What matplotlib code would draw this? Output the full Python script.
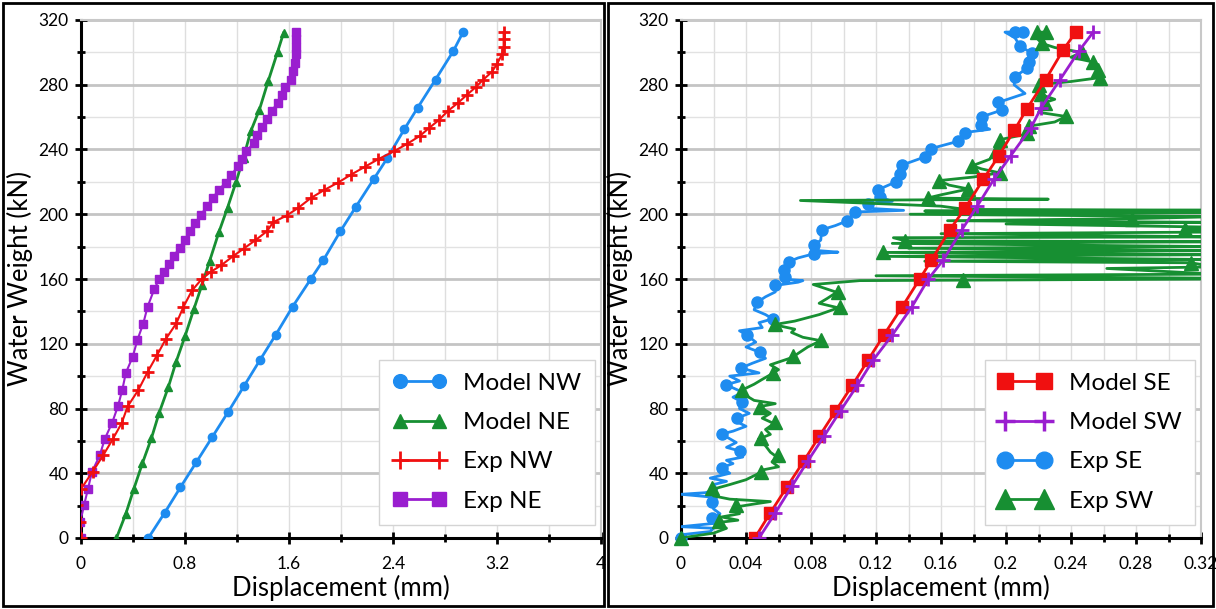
import matplotlib
matplotlib.use("Agg")
import matplotlib.pyplot as plt
from matplotlib.lines import Line2D
from matplotlib.patches import Rectangle
from matplotlib.ticker import MultipleLocator

plt.rcParams['font.family'] = ['Lato', 'DejaVu Sans']

# ---------------- left panel data (north side) ----------------
model_nw_w = [0, 15.6, 31.2, 46.8, 62.4, 78, 94, 109.7, 125.5, 142.8, 160, 171.6, 189.6, 204.3, 221.5, 234.5,
              252.5, 265.7, 283.2, 300.8, 312.5]
model_nw_x = [0.518, 0.644, 0.764, 0.887, 1.01, 1.133, 1.255, 1.375, 1.498, 1.627, 1.768, 1.864, 1.996, 2.112,
              2.25, 2.355, 2.487, 2.589, 2.727, 2.864, 2.939]

model_ne_w = [0, 15, 30.5, 46.3, 61.7, 77.5, 93, 108.7, 124.6, 141.6, 156, 171, 189, 204, 220, 235, 251.3,
              264.5, 282.5, 300.5, 312]
model_ne_x = [0.273, 0.345, 0.407, 0.473, 0.542, 0.602, 0.671, 0.731, 0.8, 0.869, 0.929, 0.989, 1.061, 1.127,
              1.193, 1.25, 1.306, 1.372, 1.441, 1.513, 1.558]

exp_nw_w = [0, 10, 20.4, 30.3, 41, 51, 61, 71, 81.3, 91.4, 102.5, 112.8, 123, 132.7, 142.8, 152.9, 160, 164.4,
            168.5, 174, 178.8, 184, 189.6, 195, 199.2, 204, 210, 214.8, 219.6, 224.4, 229.2, 234, 238.8, 243.6,
            248.4, 253.2, 258, 264, 268.8, 273.6, 278.4, 283.2, 288, 292.8, 298.8, 303.6, 308.4, 312.5]
exp_nw_x = [0, -0.01, -0.03, 0.0, 0.09, 0.17, 0.244, 0.313, 0.359, 0.441, 0.512, 0.584, 0.653, 0.734, 0.788,
            0.854, 0.929, 0.998, 1.079, 1.168, 1.252, 1.342, 1.432, 1.477, 1.582, 1.672, 1.768, 1.867, 1.978,
            2.076, 2.181, 2.286, 2.406, 2.511, 2.607, 2.676, 2.75, 2.825, 2.9, 2.966, 3.035, 3.095, 3.161, 3.2,
            3.239, 3.251, 3.251, 3.251]

exp_ne_w = [0, 10, 20.4, 30.5, 40.8, 51, 61.2, 71.3, 81.6, 91.7, 102, 112, 122.4, 132.5, 142.8, 153.6, 160,
            164.4, 169.2, 174, 179.3, 184.3, 189.6, 194.4, 199.7, 204.8, 210, 214.8, 219.6, 224.4, 229.7, 234,
            239.3, 244, 248.9, 254, 259, 264, 268.8, 273.6, 278.4, 283.2, 288.5, 293.3, 298.8, 303.6, 308.4, 312.5]
exp_ne_x = [0, -0.006, 0.024, 0.054, 0.084, 0.144, 0.183, 0.24, 0.285, 0.318, 0.345, 0.398, 0.434, 0.479, 0.512,
            0.563, 0.602, 0.638, 0.674, 0.713, 0.758, 0.797, 0.839, 0.878, 0.922, 0.968, 1.013, 1.058, 1.112,
            1.157, 1.207, 1.237, 1.273, 1.333, 1.357, 1.393, 1.432, 1.468, 1.513, 1.543, 1.573, 1.613, 1.633,
            1.648, 1.657, 1.657, 1.657, 1.657]

# ---------------- right panel data (south side) ----------------
model_se_w = [0, 15.6, 31.7, 47.3, 63, 78.7, 94.3, 109.7, 125.3, 142.8, 160, 171.6, 190.3, 204, 221.5, 236,
              252, 265.2, 283.2, 301.2, 312.5]
model_se_x = [0.0454, 0.055, 0.0653, 0.0754, 0.0852, 0.0953, 0.1054, 0.115, 0.1248, 0.1361, 0.1469, 0.1541,
              0.1654, 0.175, 0.186, 0.1955, 0.2052, 0.2129, 0.2244, 0.235, 0.2429]

model_sw_w = [0, 15.6, 31.9, 47.5, 63, 78.7, 94.3, 109.7, 125.5, 142.8, 160, 171.6, 190.3, 205.2, 221.5, 236,
              253.3, 265.5, 283.2, 301, 312.5]
model_sw_x = [0.048, 0.0581, 0.0682, 0.078, 0.0881, 0.0982, 0.1085, 0.1181, 0.1301, 0.1421, 0.1522, 0.1613,
              0.1728, 0.1824, 0.1925, 0.2028, 0.2153, 0.2215, 0.2333, 0.245, 0.2537]

# exp SE trace and the points where it carries a marker
exp_se_w = [0.5, 2, 4, 6, 7, 9, 12.6, 15, 18, 22.5, 25, 27, 28, 30, 33, 35, 37, 40, 43.5, 46, 48, 50, 53.8, 56,
            59, 64.2, 66, 69, 72, 74, 77, 80, 84.2, 87, 90, 94.7, 97, 100, 102, 105, 108, 111, 114.7, 118, 121,
            125.5, 128, 130, 133, 135.4, 138, 141, 145.7, 149, 152, 156, 158, 159, 160, 161.1, 165.7, 170.8,
            173, 175.6, 176.6, 177.5, 180.7, 184, 190.4, 193, 195.8, 201.4, 202.4, 203.5, 206.5, 208, 210.6,
            215.2, 219.9, 225.1, 230.3, 235.4, 240.6, 245.1, 250.5, 252.5, 255, 260.2, 264.3, 269.1, 274.6, 280,
            284.9, 290.1, 294.2, 299.4, 304.1, 309, 312.5, 312.8]
exp_se_x = [0.0, 0.0, 0.018, 0.020, 0.0, 0.020, 0.019, 0.024, 0.020, 0.019, 0.022, 0.0, 0.015, 0.022, 0.020,
            0.028, 0.018, 0.030, 0.025, 0.032, 0.028, 0.038, 0.036, 0.028, 0.034, 0.025, 0.032, 0.040, 0.034,
            0.0343, 0.042, 0.036, 0.0373, 0.032, 0.038, 0.0277, 0.036, 0.030, 0.048, 0.0369, 0.044, 0.052,
            0.0486, 0.040, 0.046, 0.0404, 0.036, 0.050, 0.048, 0.0564, 0.052, 0.045, 0.047, 0.052, 0.058,
            0.0578, 0.072, 0.075, 0.062, 0.064, 0.0634, 0.0667, 0.072, 0.0818, 0.0966, 0.085, 0.0818, 0.086,
            0.0866, 0.095, 0.102, 0.107, 0.137, 0.118, 0.1153, 0.130, 0.1225, 0.1214, 0.132, 0.1348, 0.1358,
            0.150, 0.154, 0.1706, 0.1748, 0.190, 0.1844, 0.185, 0.1973, 0.1953, 0.2117, 0.205, 0.2055, 0.2127,
            0.2143, 0.2158, 0.2086, 0.2055, 0.1994, 0.2107]
exp_se_mark_w = [0, 12.6, 22.5, 43.5, 53.8, 64.2, 74, 84.2, 94.7, 105, 114.7, 125.5, 135.4, 145.7, 156, 161.1,
                 165.7, 170.8, 175.6, 180.7, 190.4, 195.8, 201.4, 206.5, 210.6, 215.2, 219.9, 225.1, 230.3,
                 235.4, 240.6, 245.1, 250.5, 255, 260.2, 264.3, 269.1, 284.9, 290.1, 294.2, 299.4, 304.1, 312.8,
                 312.8]
exp_se_mark_x = [0.0, 0.0189, 0.0189, 0.025, 0.036, 0.025, 0.0343, 0.0373, 0.0277, 0.0369, 0.0486, 0.0404,
                 0.0564, 0.047, 0.0578, 0.064, 0.0634, 0.0667, 0.0818, 0.0818, 0.0866, 0.102, 0.107, 0.1153,
                 0.1225, 0.1214, 0.132, 0.1348, 0.1358, 0.150, 0.154, 0.1706, 0.1748, 0.1844, 0.185, 0.1973,
                 0.1953, 0.2055, 0.2127, 0.2143, 0.2158, 0.2086, 0.2055, 0.2107]

# exp SW trace; the readings past 0.32 run off the right edge of the axes
exp_sw_w = [0, 3, 6, 9.5, 11, 13, 15, 19.2, 21, 22.5, 24, 26, 30.1, 33, 36, 39.8, 42, 44, 47, 50.1, 53, 57,
            61.1, 64, 67, 70.7, 74, 77, 81.1, 83, 85, 88, 91, 95, 98, 101.3, 104, 107, 111.6, 114, 118, 121.9,
            124, 127, 129, 131.8, 134, 138, 142.2, 145, 148, 151.8, 156.6, 159, 160, 160.5, 162, 163, 166.5,
            167.5, 170, 171, 172, 174, 175, 176.4, 177.5, 179, 180, 182, 183, 183.6, 185.5, 186, 188, 189,
            190.8, 192, 194, 195, 196, 197.3, 198.5, 200, 201, 202, 202.5, 203, 205, 208.5, 209.3, 210, 212,
            215.6, 218, 220.8, 223, 225.6, 228, 230, 234, 238.8, 242, 246, 249, 250, 254.4, 257, 260.4, 263,
            269, 271, 274, 280, 282, 284.4, 289, 294, 297, 300, 303, 305.6, 310, 312.5, 312.5]
exp_sw_x = [0.0, 0.020, 0.028, 0.0223, 0.035, 0.025, 0.036, 0.034, 0.045, 0.055, 0.030, 0.020, 0.0195, 0.030,
            0.040, 0.0476, 0.050, 0.060, 0.056, 0.0589, 0.055, 0.052, 0.0476, 0.055, 0.052, 0.0572, 0.050,
            0.055, 0.0482, 0.058, 0.045, 0.040, 0.0367, 0.045, 0.050, 0.0558, 0.060, 0.055, 0.0687, 0.072,
            0.078, 0.086, 0.075, 0.068, 0.070, 0.0572, 0.070, 0.085, 0.0968, 0.085, 0.090, 0.0958, 0.0814,
            0.110, 0.33, 0.33, 0.120, 0.33, 0.262, 0.33, 0.3137, 0.150, 0.33, 0.125, 0.33, 0.1241, 0.33, 0.140,
            0.33, 0.130, 0.33, 0.138, 0.1307, 0.33, 0.160, 0.33, 0.3101, 0.33, 0.200, 0.33, 0.164, 0.2777, 0.33,
            0.141, 0.33, 0.150, 0.33, 0.175, 0.160, 0.0735, 0.226, 0.1517, 0.160, 0.1769, 0.165, 0.1589, 0.180,
            0.196, 0.185, 0.1793, 0.190, 0.1937, 0.200, 0.196, 0.210, 0.2131, 0.2141, 0.230, 0.237, 0.220,
            0.2237, 0.230, 0.2213, 0.220, 0.240, 0.2578, 0.2568, 0.2537, 0.240, 0.2465, 0.230, 0.222, 0.2178,
            0.219, 0.2244]
exp_sw_mark_w = [0, 10.8, 20.4, 30.7, 40.8, 51.1, 61.9, 71.5, 81.1, 91.2, 102, 112.3, 122.4, 132.5, 142.8,
                 152, 159.6, 170, 176.4, 183.6, 190.8, 197.3, 210, 215.6, 220.8, 225.6, 230, 238.8, 246, 250,
                 254.4, 260.4, 269, 274, 280, 284.4, 289, 294, 300, 305.6, 312.5, 312.5]
exp_sw_mark_x = [0.0, 0.0233, 0.0341, 0.0192, 0.049, 0.0598, 0.049, 0.0581, 0.0485, 0.0377, 0.0569, 0.0689,
                 0.0864, 0.058, 0.0977, 0.0965, 0.1733, 0.3137, 0.1241, 0.138, 0.3101, 0.2777, 0.1517, 0.1769,
                 0.1589, 0.196, 0.1793, 0.1937, 0.196, 0.2131, 0.2141, 0.237, 0.2237, 0.2213, 0.22, 0.2578,
                 0.2568, 0.2537, 0.2465, 0.222, 0.219, 0.2244]

BLUE = '#1E8CF0'
GREEN = '#178F32'
RED = '#F01010'
PURPLE = '#9A1ECF'


def style_axes(ax, xmax, xmajor, xminor, xfmt):
    ax.set_xlim(0, xmax)
    ax.set_ylim(0, 320)
    ax.xaxis.set_major_locator(MultipleLocator(xmajor))
    ax.xaxis.set_minor_locator(MultipleLocator(xminor))
    ax.yaxis.set_major_locator(MultipleLocator(40))
    ax.yaxis.set_minor_locator(MultipleLocator(20))
    ax.xaxis.set_major_formatter(xfmt)
    ax.grid(axis='y', which='major', color='#c4c4c4', linewidth=2.0, zorder=0)
    ax.grid(axis='y', which='minor', color='#e2e2e2', linewidth=1.0, zorder=0)
    ax.grid(axis='x', which='both', color='#dedede', linewidth=1.0, zorder=0)
    for side in ['top', 'right']:
        ax.spines[side].set_color('#c8c8c8')
        ax.spines[side].set_linewidth(1.5)
    for side in ['left', 'bottom']:
        ax.spines[side].set_color('black')
        ax.spines[side].set_linewidth(2.2)
    ax.tick_params(which='major', direction='inout', length=8, width=2, labelsize=12.5, pad=5,
                   top=False, right=False)
    ax.tick_params(which='minor', direction='inout', length=6, width=2, top=False, right=False)
    ax.tick_params(axis='x', pad=9)
    ax.set_xlabel('Displacement (mm)', fontsize=18.5, labelpad=2)
    ax.set_ylabel('Water Weight (kN)', fontsize=18.5, labelpad=4)


def fmt_clean(v, pos):
    s = ('%.2f' % v).rstrip('0').rstrip('.')
    return s


fig = plt.figure(figsize=(12.16, 6.09), dpi=100)

# panel frames
fig.patches.append(Rectangle((3 / 1216, 3 / 609), 601 / 1216, 603 / 609, transform=fig.transFigure,
                             fill=False, edgecolor='black', linewidth=2))
fig.patches.append(Rectangle((608 / 1216, 3 / 609), 605 / 1216, 603 / 609, transform=fig.transFigure,
                             fill=False, edgecolor='black', linewidth=2))

ax1 = fig.add_axes([81 / 1216, 71 / 609, 520 / 1216, 518 / 609])
ax2 = fig.add_axes([681 / 1216, 71 / 609, 520 / 1216, 518 / 609])

legend_kw = dict(loc='lower right', bbox_to_anchor=(0.988, 0.025), borderaxespad=0, fontsize=17.5,
                 numpoints=2, handlelength=2.2, borderpad=0.55, labelspacing=0.75, handletextpad=0.7,
                 fancybox=False, framealpha=1, edgecolor='#d4d4d4')

# left panel
ax1.plot(model_nw_x, model_nw_w, color=BLUE, lw=2, marker='o', ms=6, label='Model NW', zorder=3)
ax1.plot(model_ne_x, model_ne_w, color=GREEN, lw=2, marker='^', ms=6, label='Model NE', zorder=3)
ax1.plot(exp_nw_x, exp_nw_w, color=RED, lw=1.5, marker='+', ms=8, mew=2, label='Exp NW', zorder=4)
ax1.plot(exp_ne_x, exp_ne_w, color=PURPLE, lw=1.5, marker='s', ms=6, label='Exp NE', zorder=3)
style_axes(ax1, 4, 0.8, 0.4, plt.FuncFormatter(fmt_clean))
leg1 = ax1.legend(markerscale=1.65, **legend_kw)
for h in leg1.get_lines():
    h.set_linewidth(2)

# right panel
ax2.plot(exp_se_x, exp_se_w, color=BLUE, lw=2, zorder=3, clip_on=True)
ax2.plot(exp_se_mark_x, exp_se_mark_w, color=BLUE, ls='none', marker='o', ms=8, zorder=3, clip_on=False)
ax2.plot(exp_sw_x, exp_sw_w, color=GREEN, lw=2, zorder=4, clip_on=True)
ax2.plot(exp_sw_mark_x, exp_sw_mark_w, color=GREEN, ls='none', marker='^', ms=10, zorder=4, clip_on=False)
ax2.plot(model_se_x, model_se_w, color=RED, lw=2, marker='s', ms=8, zorder=5)
ax2.plot(model_sw_x, model_sw_w, color=PURPLE, lw=2, marker='+', ms=10, mew=2, zorder=5)
style_axes(ax2, 0.32, 0.04, 0.02, plt.FuncFormatter(fmt_clean))
handles = [
    Line2D([], [], color=RED, lw=2, marker='s', ms=12),
    Line2D([], [], color=PURPLE, lw=2, marker='+', ms=14, mew=2.5),
    Line2D([], [], color=BLUE, lw=2, marker='o', ms=12),
    Line2D([], [], color=GREEN, lw=2, marker='^', ms=14),
]
ax2.legend(handles, ['Model SE', 'Model SW', 'Exp SE', 'Exp SW'], **legend_kw)

fig.savefig('out.png', dpi=100)
